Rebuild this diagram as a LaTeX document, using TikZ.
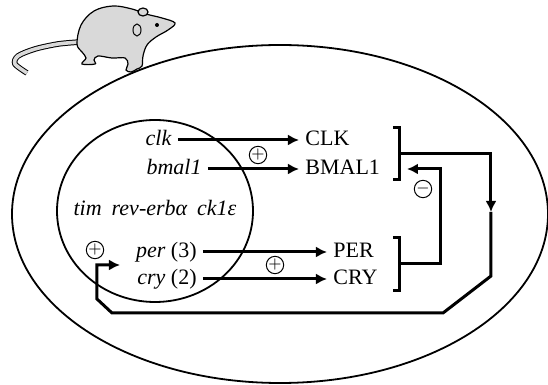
\documentclass[tikz,border=0pt]{standalone}
\usepackage{fontspec}
\setmainfont{Liberation Serif}
\usetikzlibrary{shapes.geometric, arrows.meta}

\begin{document}
\begin{tikzpicture}[x=0.5pt, y=-0.5pt, every node/.style={font=\fontsize{11}{13}\selectfont}]
        % Styles for the clock loop
        \tikzstyle{gene} = [anchor=east, inner sep=3pt, text height=7.5pt, text depth=2pt]
        \tikzstyle{protein} = [anchor=west, inner sep=3pt, text height=7.5pt, text depth=2pt]
        \tikzstyle{sign} = [circle, draw, line width=0.5pt, inner sep=0pt, minimum size=8pt, font=\fontsize{8}{8}\selectfont]
        \tikzstyle{arrow} = [line width=1.5pt,->,>={Latex[length=5.5pt,width=5.5pt]}]
        \tikzstyle{bracket} = [line width=1.5pt]
        \tikzstyle{membrane} = [ellipse, draw, line width=0.9pt, inner sep=0pt]
        \useasboundingbox (0,0) rectangle (548,385);

        % Cell and nucleus
        \node (cell) [membrane, minimum width=268pt, minimum height=169pt] at (280,214) {};
        \node (nucleus) [membrane, minimum width=98pt, minimum height=91pt] at (155,211) {};

        % Mouse on top of the cell
        \draw[double=gray!30, double distance=1.8pt, line width=0.5pt] plot[smooth] coordinates {(80,42) (58,44) (35,49) (18,56) (15,64) (27,73)};
        \draw[fill=gray!30, line width=0.6pt] plot[smooth cycle, tension=0.6] coordinates {(77,44) (81,25) (94,11) (113,6) (132,9) (146,14) (162,18) (175,23) (168,30) (156,37) (147,45) (143,56) (142,66) (137,69) (131,72) (126,70) (128,64) (125,58) (112,58) (98,56) (94,60) (95,64) (82,64) (86,58) (82,52)};
        \draw[fill=gray!30, line width=0.6pt] (143,12) ellipse [x radius=5, y radius=4];
        \draw[line width=0.5pt] (137,30) ellipse [x radius=4, y radius=6];
        \fill (157,25) circle [radius=2];

        % Genes and proteins
        \node (clk) [gene] at (178,140) {\textit{clk}};
        \node (bmal) [gene] at (208,169) {\textit{bmal1}};
        \node (tim) at (155,208) {\itshape tim\hspace{5pt}rev-erbα\hspace{5pt}ck1ε};
        \node (per) [gene] at (203,252) {\textit{per} (3)};
        \node (cry) [gene] at (203,279) {\textit{cry} (2)};
        \node (CLK) [protein] at (299,140) {CLK};
        \node (BMAL) [protein] at (299,169) {BMAL1};
        \node (PER) [protein] at (327,252) {PER};
        \node (CRY) [protein] at (327,279) {CRY};

        % Arrows
        \draw [arrow] (clk) -- (CLK);
        \draw [arrow] (bmal) -- (BMAL);
        \draw [arrow] (per) -- (PER);
        \draw [arrow] (cry) -- (CRY);

        % Brackets round the protein pairs
        \draw [bracket] (393,128) -| (400,180) -- (393,180);
        \draw [bracket] (393,238) -| (400,291) -- (393,291);
        \coordinate (clkbr) at (400,154);
        \coordinate (perbr) at (400,264);

        % Feedback loops
        \coordinate (down) at (491,212);
        \coordinate (feedin) at (120,265);
        \coordinate (clkin) at (407,169);
        \draw [arrow] (clkbr) -| (down);
        \draw [arrow] (down) -- (491,276) -- (443,313) -- (112,313) -- (97,299) |- (feedin);
        \draw [arrow] (perbr) -| (441,169) -- (clkin);

        % Signs
        \node (act1) [sign] at (258,155) {$+$};
        \node (act2) [sign] at (275,265) {$+$};
        \node (act3) [sign] at (95,250) {$+$};
        \node (rep) [sign] at (423,189) {$-$};
    \end{tikzpicture}
\end{document}
